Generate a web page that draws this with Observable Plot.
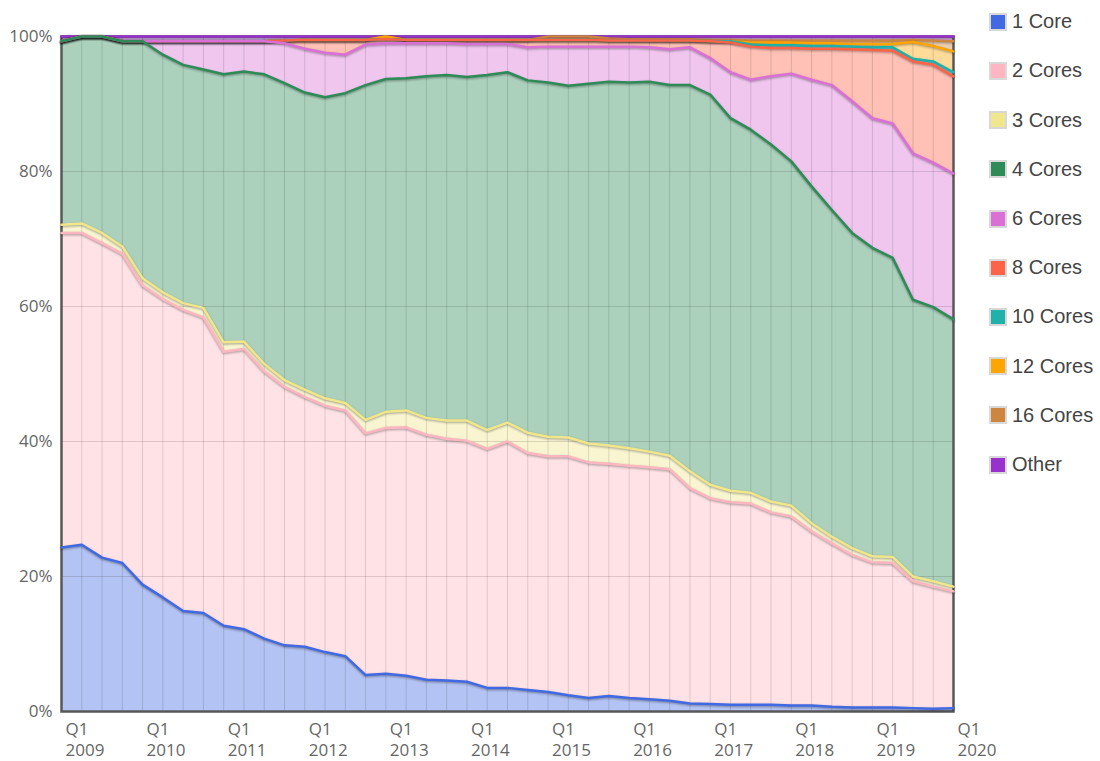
<!DOCTYPE html>
<html><head><meta charset="utf-8">
<script src="https://cdn.jsdelivr.net/npm/d3@7"></script>
<script src="https://cdn.jsdelivr.net/npm/@observablehq/plot@0.6"></script>
<style>
body{margin:0;background:#fff;}
#wrap{position:relative;width:1100px;height:761px;overflow:hidden;}
#chart{position:absolute;left:0;top:0;}
#legend{position:absolute;left:989px;top:0;font-family:"Liberation Sans",Arial,sans-serif;font-size:20px;color:#444;}
.item{position:absolute;left:0;display:flex;align-items:center;white-space:nowrap;height:24px;}
.sw{width:14px;height:14px;border:2px solid #d8d8d8;margin-right:5px;flex:none;}
#chart svg g[aria-label="line"] path{filter:drop-shadow(0 1px 1px rgba(0,0,0,0.35));}
</style></head><body>
<div id="wrap"><div id="chart"></div><div id="legend"></div></div>
<script>
const quarters = [
"2009 Q1","2009 Q2","2009 Q3","2009 Q4","2010 Q1","2010 Q2","2010 Q3","2010 Q4",
"2011 Q1","2011 Q2","2011 Q3","2011 Q4","2012 Q1","2012 Q2","2012 Q3","2012 Q4",
"2013 Q1","2013 Q2","2013 Q3","2013 Q4","2014 Q1","2014 Q2","2014 Q3","2014 Q4",
"2015 Q1","2015 Q2","2015 Q3","2015 Q4","2016 Q1","2016 Q2","2016 Q3","2016 Q4",
"2017 Q1","2017 Q2","2017 Q3","2017 Q4","2018 Q1","2018 Q2","2018 Q3","2018 Q4",
"2019 Q1","2019 Q2","2019 Q3","2019 Q4","2020 Q1"];

const core1  = [24.3,24.7,22.8,22.0,18.8,16.9,14.9,14.6,12.7,12.2,10.8,9.8,9.6,8.8,8.2,5.4,5.6,5.3,4.7,4.6,4.4,3.5,3.5,3.2,2.9,2.4,2.0,2.3,2.0,1.8,1.6,1.2,1.1,1.0,1.0,1.0,0.9,0.9,0.7,0.6,0.6,0.6,0.5,0.4,0.5];
const core2  = [46.6,46.2,46.6,45.8,44.3,44.2,44.6,43.8,40.6,41.5,39.6,38.3,37.0,36.5,36.4,35.8,36.4,36.8,36.3,35.8,35.7,35.4,36.5,35.1,34.9,35.4,34.9,34.4,34.4,34.4,34.3,31.9,30.5,30.0,29.8,28.5,28.0,25.8,24.2,22.6,21.5,21.4,18.8,18.1,17.3];
const core3  = [1.2,1.4,1.5,1.1,1.1,1.0,1.0,1.4,1.4,1.1,1.1,1.0,1.1,1.1,1.1,2.0,2.4,2.5,2.5,2.7,3.0,2.8,2.8,3.0,2.9,2.8,2.8,2.7,2.6,2.3,2.0,2.5,2.0,1.7,1.6,1.6,1.6,1.2,1.0,1.0,0.9,0.9,0.7,0.8,0.7];
const core4  = [27.2,27.7,29.1,30.4,35.1,35.2,35.3,35.3,39.7,40.0,42.9,44.0,44.0,44.6,45.9,49.6,49.3,49.2,50.6,51.2,50.9,52.6,51.9,52.2,52.5,52.1,53.3,53.9,54.2,54.8,54.9,57.2,57.8,55.2,53.8,52.9,51.0,49.9,48.4,46.7,45.7,44.3,41.0,40.6,39.6];
const core6  = [0,0,0,0,0,2.0,3.5,4.2,4.9,4.5,4.9,5.9,6.5,6.6,5.7,6.0,5.3,5.2,4.9,4.7,4.9,4.6,4.2,4.9,5.3,5.8,5.5,5.2,5.3,5.1,5.3,5.6,5.4,6.8,7.4,10.1,13.0,15.8,18.5,19.5,19.2,19.9,21.7,21.4,21.6];
const core8  = [0,0,0,0,0,0,0,0,0,0,0,0.4,1.3,1.9,2.2,0.7,0.6,0.5,0.5,0.5,0.6,0.6,0.6,1.1,1.0,1.0,1.0,0.9,0.9,1.0,1.3,1.0,2.5,4.4,4.9,4.2,3.8,4.6,5.4,7.7,10.1,10.8,13.6,14.5,14.4];
const core10 = [0,0,0,0,0,0,0,0,0,0,0,0,0,0,0,0,0,0,0,0,0,0,0,0,0,0,0,0,0,0,0,0,0,0.2,0.3,0.4,0.4,0.4,0.4,0.4,0.4,0.5,0.4,0.5,0.6];
const core12 = [0,0,0,0,0,0,0,0,0,0,0,0,0,0,0,0,0.4,0,0,0,0,0,0,0,0,0,0,0,0,0,0,0,0,0,0.3,0.4,0.4,0.4,0.4,0.4,0.5,0.5,2.5,2.3,3.1];
const core16 = [0,0,0,0,0,0,0,0,0,0,0,0,0,0,0,0,0,0,0,0,0,0,0,0,0.5,0.5,0.5,0.3,0.2,0.2,0.2,0.2,0.2,0.2,0.3,0.3,0.3,0.4,0.4,0.5,0.5,0.5,0.3,0.8,1.5];
const other  = [0.7,0,0,0.7,0.7,0.7,0.7,0.7,0.7,0.7,0.7,0.6,0.5,0.5,0.5,0.5,0,0.5,0.5,0.5,0.5,0.5,0.5,0.5,0,0,0,0.3,0.4,0.4,0.4,0.4,0.5,0.5,0.6,0.6,0.6,0.6,0.6,0.6,0.6,0.6,0.5,0.6,0.7];

const seriesNames  = ["1 Core","2 Cores","3 Cores","4 Cores","6 Cores","8 Cores","10 Cores","12 Cores","16 Cores","Other"];
const seriesColors = ["#4169e1","#ffb6c1","#f0e68c","#2e8b57","#da70d6","#ff6347","#20b2aa","#ffa500","#cd853f","#9932cc"];
const seriesValues = [core1,core2,core3,core4,core6,core8,core10,core12,core16,other];
const yTicks = [0,0.2,0.4,0.6,0.8,1];
const yearTicks = [2009,2010,2011,2012,2013,2014,2015,2016,2017,2018,2019,2020];

const qTime = q => +q.slice(0,4) + (+q.slice(6) - 1) / 4;
const quarterTs = quarters.map(qTime);

const rows = [];
seriesNames.forEach((name, s) => quarters.forEach((q, i) => rows.push({series: name, t: qTime(q), value: seriesValues[s][i]})));
const rowsRev = [];
for (let s = seriesNames.length - 1; s >= 0; s--) quarters.forEach((q, i) => rowsRev.push({series: seriesNames[s], t: qTime(q), value: seriesValues[s][i]}));

const plot = Plot.plot({
  width: 1000, height: 761,
  marginTop: 36, marginBottom: 50, marginLeft: 61, marginRight: 47,
  style: {fontFamily: "'Open Sans', sans-serif", fontSize: "17px", color: "#666", background: "transparent", overflow: "visible"},
  x: {domain: [2009, 2020], axis: null},
  y: {domain: [0, 1], axis: null},
  color: {domain: seriesNames, range: seriesColors},
  marks: [
    Plot.areaY(rows, Plot.stackY({x: "t", y: "value", z: "series", fill: "series", fillOpacity: 0.4, offset: "normalize", order: seriesNames})),
    Plot.ruleX(quarterTs, {stroke: "#000", strokeOpacity: 0.13}),
    Plot.ruleY([0.2, 0.4, 0.6, 0.8], {stroke: "#000", strokeOpacity: 0.13}),
    Plot.frame({stroke: "#585858", strokeWidth: 2.5}),
    Plot.lineY(rowsRev, Plot.stackY2({x: "t", y: "value", z: "series", stroke: "series", strokeWidth: 2.5, offset: "normalize", order: seriesNames})),
    Plot.axisY(yTicks, {label: null, tickSize: 0, tickPadding: 9, tickFormat: d3.format(".0%"), fontSize: 17, fill: "#666"}),
    Plot.axisX(yearTicks, {label: null, tickSize: 0, tickPadding: 8, tickFormat: d => `Q1\n${d}`, textAnchor: "start", dx: 4, lineHeight: 1.27, fontSize: 17, fill: "#666"})
  ]
});
document.getElementById("chart").appendChild(plot);

const legend = document.getElementById("legend");
seriesNames.forEach((name, k) => {
  const item = document.createElement("div");
  item.className = "item";
  item.style.top = (21.7 + k * 49.2 - 12) + "px";
  const sw = document.createElement("div");
  sw.className = "sw";
  sw.style.background = seriesColors[k];
  const label = document.createElement("span");
  label.textContent = name;
  item.appendChild(sw);
  item.appendChild(label);
  legend.appendChild(item);
});
</script>
</body></html>
